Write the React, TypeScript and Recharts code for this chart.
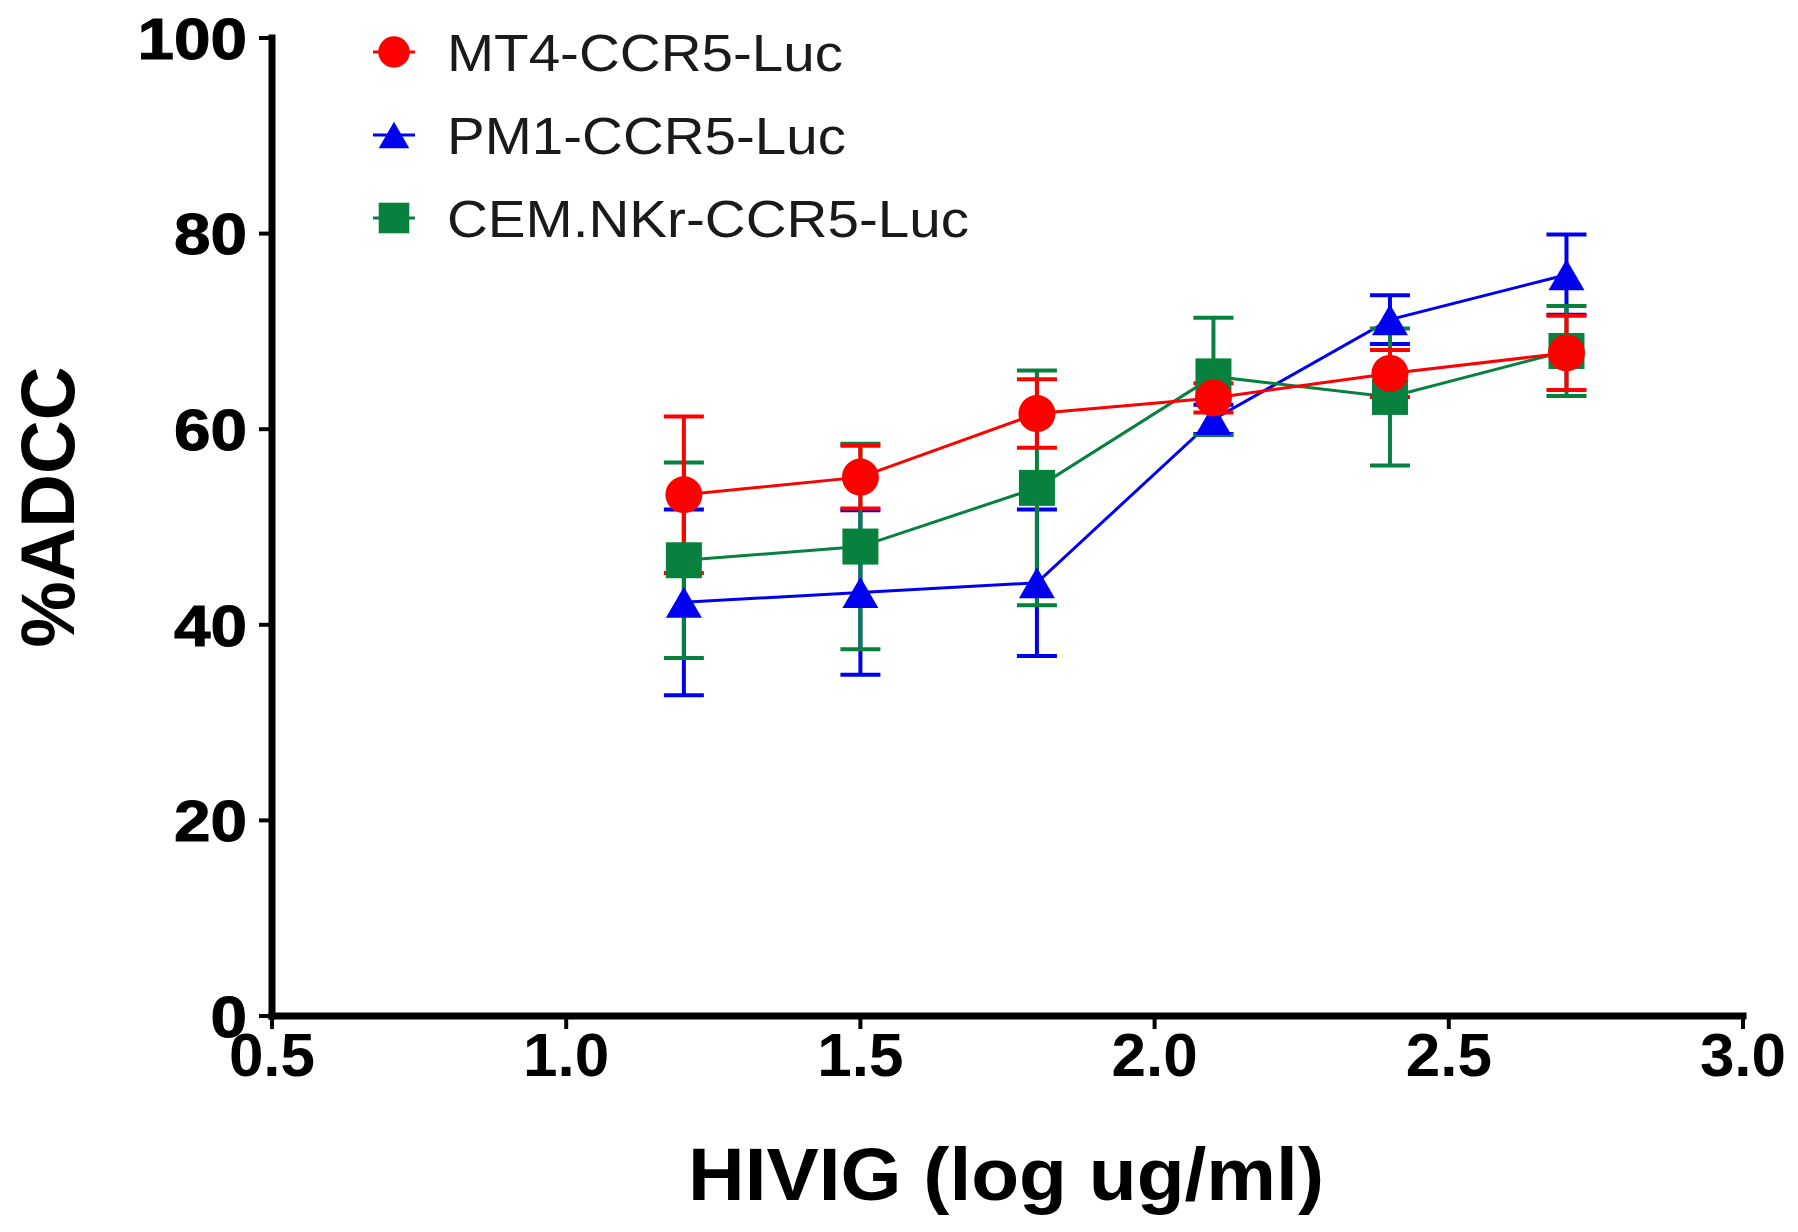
import { LineChart, Line, XAxis, YAxis, ErrorBar, Legend, Label } from 'recharts';

// HIVIG concentration (log ug/ml)
const X_VALUES = [1.2, 1.5, 1.8, 2.1, 2.4, 2.7];

// %ADCC means and error (SEM) per target cell line
const MT4 = [53.3, 55.1, 61.6, 63.2, 65.7, 67.8];
const MT4_ERR = [8.0, 3.2, 3.5, 1.5, 2.4, 3.8];
const PM1 = [42.3, 43.3, 44.3, 61.0, 71.2, 75.8];
const PM1_ERR = [9.5, 8.4, 7.5, 1.5, 2.5, 4.1];
const CEM = [46.6, 48.0, 54.0, 65.4, 63.3, 68.0];
const CEM_ERR = [10.0, 10.5, 12.0, 6.0, 7.0, 4.6];

const X_TICKS = [0.5, 1.0, 1.5, 2.0, 2.5, 3.0];
const Y_TICKS = [0, 20, 40, 60, 80, 100];

const SERIES = [
    { key: 'mt4', name: 'MT4-CCR5-Luc', color: '#ff0000', shape: 'circle', textWidth: 396 },
    { key: 'pm1', name: 'PM1-CCR5-Luc', color: '#0000f0', shape: 'triangle', textWidth: 399 },
    { key: 'cem', name: 'CEM.NKr-CCR5-Luc', color: '#08803e', shape: 'square', textWidth: 522 },
];

const data = X_VALUES.map((x, i) => ({
    x,
    mt4: MT4[i],
    mt4Err: MT4_ERR[i],
    pm1: PM1[i],
    pm1Err: PM1_ERR[i],
    cem: CEM[i],
    cemErr: CEM_ERR[i],
}));

const FONT = "'Liberation Sans', Arial, Helvetica, sans-serif";

function Marker({ shape, cx, cy, color, scale = 1 }: { shape: string; cx: number; cy: number; color: string; scale?: number }) {
    if (shape === 'circle') {
        return <circle cx={cx} cy={cy} r={18.5 * scale} fill={color} />;
    }
    if (shape === 'square') {
        const s = 36 * scale;
        return <rect x={cx - s / 2} y={cy - s / 2} width={s} height={s} fill={color} />;
    }
    const w = 36 * scale;
    const h = 31 * scale;
    return (
        <polygon
            points={`${cx},${cy - h / 2} ${cx + w / 2},${cy + h / 2} ${cx - w / 2},${cy + h / 2}`}
            fill={color}
        />
    );
}

const makeDot = (shape: string, color: string) => (props: any) => {
    if (props.cx == null || props.cy == null) return <g key={props.index} />;
    return (
        <g key={`${shape}-${props.index}`}>
            <Marker shape={shape} cx={props.cx} cy={props.cy} color={color} />
        </g>
    );
};

const YTick = (props: any) => {
    const { x, y, payload } = props;
    const label = String(payload.value);
    return (
        <text
            x={x}
            y={y}
            dy="0.36em"
            textAnchor="end"
            fontFamily={FONT}
            fontWeight={900}
            fontSize={58}
            fill="#000"
            stroke="#000"
            strokeWidth={1}
            textLength={label.length * 36.5}
            lengthAdjust="spacingAndGlyphs"
        >
            {label}
        </text>
    );
};

const XTick = (props: any) => {
    const { x, y, payload } = props;
    return (
        <text x={x} y={y} dy="0.76em" textAnchor="middle" fontFamily={FONT} fontWeight={700} fontSize={62} fill="#000">
            {Number(payload.value).toFixed(1)}
        </text>
    );
};

const LegendBox = () => (
    <svg width={1000} height={260}>
        {SERIES.map((s, i) => {
            const cy = 52 + i * 83;
            return (
                <g key={s.key}>
                    <line x1={373} y1={cy} x2={415} y2={cy} stroke={s.color} strokeWidth={3} />
                    <Marker shape={s.shape} cx={394} cy={cy} color={s.color} scale={0.85} />
                    <text
                        x={447}
                        y={cy}
                        dy="0.36em"
                        fontFamily={FONT}
                        fontSize={52}
                        fill="#1a1a1a"
                        textLength={s.textWidth}
                        lengthAdjust="spacingAndGlyphs"
                    >
                        {s.name}
                    </text>
                </g>
            );
        })}
    </svg>
);

// draw order: blue under green under red
const DRAW_ORDER = ['pm1', 'cem', 'mt4'];

export default function App() {
    return (
        <div style={{ position: 'absolute', left: 0, top: 0, width: 1798, height: 1232, background: '#fff' }}>
            <LineChart width={1798} height={1232} data={data} margin={{ top: 38, right: 55, bottom: 0, left: 0 }}>
                <XAxis
                    type="number"
                    dataKey="x"
                    domain={[0.5, 3]}
                    ticks={X_TICKS}
                    allowDataOverflow
                    height={216}
                    axisLine={{ stroke: '#000', strokeWidth: 7, strokeLinecap: 'square' }}
                    tickLine={{ stroke: '#000', strokeWidth: 4 }}
                    tickSize={13}
                    tickMargin={0}
                    tick={<XTick />}
                >
                    <Label
                        content={() => (
                            <text
                                x={1006}
                                y={1200}
                                textAnchor="middle"
                                fontFamily={FONT}
                                fontWeight={700}
                                fontSize={74}
                                fill="#000"
                                textLength={636}
                                lengthAdjust="spacingAndGlyphs"
                            >
                                HIVIG (log ug/ml)
                            </text>
                        )}
                    />
                </XAxis>
                <YAxis
                    type="number"
                    domain={[0, 100]}
                    ticks={Y_TICKS}
                    width={272}
                    axisLine={{ stroke: '#000', strokeWidth: 7, strokeLinecap: 'square' }}
                    tickLine={{ stroke: '#000', strokeWidth: 4 }}
                    tickSize={13}
                    tickMargin={12}
                    tick={<YTick />}
                >
                    <Label
                        content={() => (
                            <text
                                x={74}
                                y={507}
                                transform="rotate(-90, 74, 507)"
                                textAnchor="middle"
                                fontFamily={FONT}
                                fontWeight={700}
                                fontSize={76}
                                fill="#000"
                                textLength={281}
                                lengthAdjust="spacingAndGlyphs"
                            >
                                %ADCC
                            </text>
                        )}
                    />
                </YAxis>
                <Legend
                    layout="vertical"
                    align="center"
                    verticalAlign="middle"
                    wrapperStyle={{ left: 0, top: 0, width: 1000, height: 260 }}
                    content={() => <LegendBox />}
                />
                {DRAW_ORDER.map((key) => {
                    const s = SERIES.find((d) => d.key === key)!;
                    return (
                        <Line
                            key={s.key}
                            type="linear"
                            dataKey={s.key}
                            name={s.name}
                            stroke={s.color}
                            strokeWidth={3}
                            dot={makeDot(s.shape, s.color)}
                            activeDot={false}
                            isAnimationActive={false}
                        >
                            <ErrorBar
                                dataKey={`${s.key}Err`}
                                direction="y"
                                width={20}
                                stroke={s.color}
                                strokeWidth={4}
                                isAnimationActive={false}
                            />
                        </Line>
                    );
                })}
            </LineChart>
        </div>
    );
}
